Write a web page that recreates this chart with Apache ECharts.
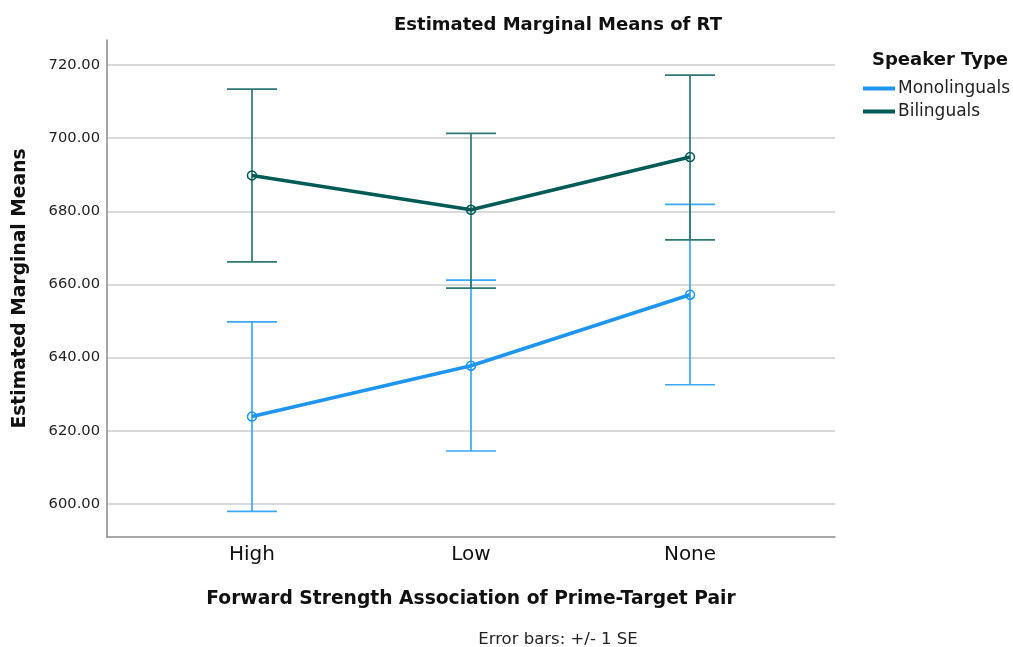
<!DOCTYPE html>
<html>
<head>
<meta charset="utf-8">
<script src="https://cdn.jsdelivr.net/npm/echarts@6/dist/echarts.min.js"></script>
<style>
  html, body { margin: 0; padding: 0; background: #fff; }
  #chart { width: 1013px; height: 647px; }
</style>
</head>
<body>
<div id="chart"></div>
<script>
// Categories on the x axis (placed at positions 0, 1, 2)
const categories = ['High', 'Low', 'None'];
const seriesNames = ['Monolinguals', 'Bilinguals'];

// Estimated marginal means and +/- 1 SE bounds
const monoMean  = [623.9, 637.8, 657.2];
const monoUpper = [649.8, 661.2, 681.9];
const monoLower = [598.0, 614.5, 632.6];

const biMean  = [689.8, 680.4, 694.8];
const biUpper = [713.4, 701.3, 717.2];
const biLower = [666.2, 659.0, 672.2];

const yTicks = [600, 620, 640, 660, 680, 700, 720];

const lineColors = ['#1e96f0', '#005b56'];
const barColors  = ['#3aa8f2', '#2d7873'];

const FONT = 'DejaVu Sans';

function errorSeries(name, upper, lower, color) {
  const data = upper.map((u, i) => [i, lower[i], u]);
  return {
    type: 'custom',
    name: name + ' SE',
    z: 2,
    silent: true,
    data: data,
    encode: { x: 0, y: [1, 2] },
    renderItem: function (params, api) {
      const x = api.value(0);
      const lo = api.coord([x, api.value(1)]);
      const hi = api.coord([x, api.value(2)]);
      const half = 25;
      const style = { stroke: color, lineWidth: 1.7 };
      return {
        type: 'group',
        children: [
          { type: 'line', shape: { x1: lo[0], y1: lo[1], x2: hi[0], y2: hi[1] }, style: style },
          { type: 'line', shape: { x1: hi[0] - half, y1: hi[1], x2: hi[0] + half, y2: hi[1] }, style: style },
          { type: 'line', shape: { x1: lo[0] - half, y1: lo[1], x2: lo[0] + half, y2: lo[1] }, style: style }
        ]
      };
    }
  };
}

function meanSeries(name, means, color) {
  return {
    type: 'line',
    name: name,
    z: 3,
    data: means.map((v, i) => [i, v]),
    symbol: 'circle',
    symbolSize: 9,
    lineStyle: { color: color, width: 3.6 },
    itemStyle: { color: 'rgba(255,255,255,0)', borderColor: color, borderWidth: 1.5 },
    emphasis: { disabled: true }
  };
}

const chart = echarts.init(document.getElementById('chart'), null, { renderer: 'canvas' });

chart.setOption({
  animation: false,
  backgroundColor: '#ffffff',
  textStyle: { fontFamily: FONT },
  title: [
    {
      text: 'Estimated Marginal Means of RT',
      left: 553, top: 11, textAlign: 'center',
      textStyle: { fontFamily: FONT, fontSize: 18, fontWeight: 'bold', color: '#111' }
    },
    {
      text: 'Speaker Type',
      left: 867, top: 46,
      textStyle: { fontFamily: FONT, fontSize: 18, fontWeight: 'bold', color: '#111' }
    },
    {
      text: 'Error bars: +/- 1 SE',
      left: 553, top: 626, textAlign: 'center',
      textStyle: { fontFamily: FONT, fontSize: 16.5, fontWeight: 'normal', color: '#222' }
    }
  ],
  legend: {
    data: seriesNames.map((n, i) => ({ name: n, itemStyle: { color: lineColors[i], borderWidth: 0 } })),
    orient: 'vertical',
    left: 858, top: 75,
    icon: 'rect',
    itemWidth: 32, itemHeight: 4,
    itemGap: 6,
    selectedMode: false,
    textStyle: { fontFamily: FONT, fontSize: 17, lineHeight: 16, color: '#222', padding: [0, 0, 0, -2] }
  },
  grid: { left: 107, right: 178, top: 40, bottom: 110, containLabel: false },
  xAxis: {
    type: 'value',
    min: -0.662, max: 2.662,
    name: 'Forward Strength Association of Prime-Target Pair',
    nameLocation: 'middle',
    nameGap: 53,
    nameTextStyle: { fontFamily: FONT, fontSize: 18.7, fontWeight: 'bold', color: '#111' },
    axisLine: { show: true, onZero: false, lineStyle: { color: '#8a8a8a', width: 1.5 } },
    axisTick: { show: false, customValues: [0, 1, 2] },
    splitLine: { show: false },
    axisLabel: {
      customValues: [0, 1, 2],
      formatter: v => categories[Math.round(v)],
      fontFamily: FONT, fontSize: 20, color: '#111', margin: 8
    }
  },
  yAxis: {
    type: 'value',
    min: 591, max: 726.8,
    name: 'Estimated Marginal Means',
    nameLocation: 'middle',
    nameGap: 77,
    nameTextStyle: { fontFamily: FONT, fontSize: 18.7, fontWeight: 'bold', color: '#111' },
    axisLine: { show: true, onZero: false, lineStyle: { color: '#8a8a8a', width: 1.5 } },
    axisTick: { show: false, customValues: yTicks },
    splitLine: { show: true, lineStyle: { color: '#cccccc', width: 1.5 } },
    axisLabel: {
      customValues: yTicks,
      formatter: v => v.toFixed(2),
      fontFamily: FONT, fontSize: 14.7, color: '#222', margin: 7
    }
  },
  series: [
    errorSeries(seriesNames[0], monoUpper, monoLower, barColors[0]),
    errorSeries(seriesNames[1], biUpper, biLower, barColors[1]),
    meanSeries(seriesNames[0], monoMean, lineColors[0]),
    meanSeries(seriesNames[1], biMean, lineColors[1])
  ]
});
</script>
</body>
</html>
